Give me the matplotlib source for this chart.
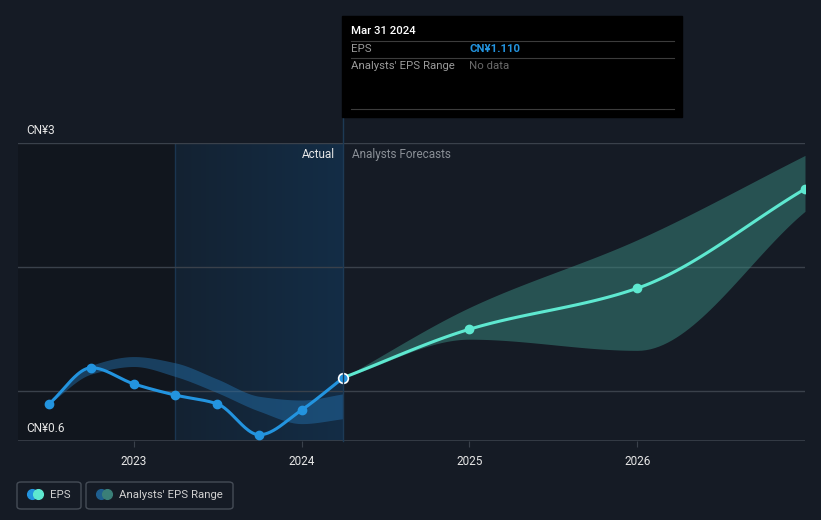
import matplotlib.pyplot as plt
from matplotlib.patches import FancyBboxPatch, Rectangle
from matplotlib.lines import Line2D
from matplotlib.colors import LinearSegmentedColormap
import numpy as np
import pandas as pd

plt.rcParams["font.family"] = ["Roboto", "DejaVu Sans"]

BG = "#151b25"
EPS_BLUE = "#2394df"
EPS_TEAL = "#5ee8d0"

hist_dates = ["2022-06-30", "2022-09-30", "2022-12-31", "2023-03-31",
              "2023-06-30", "2023-09-30", "2023-12-31", "2024-03-31"]
hist_eps = [0.90, 1.19, 1.06, 0.97, 0.90, 0.65, 0.85, 1.11]
hist_low = [0.90, 1.14, 1.20, 1.12, 0.99, 0.84, 0.74, 0.78]
hist_high = [0.90, 1.21, 1.28, 1.23, 1.10, 0.96, 0.93, 0.98]

fc_dates = ["2024-03-31", "2024-12-31", "2025-12-31", "2026-12-31"]
fc_eps = [1.11, 1.50, 1.83, 2.63]
fc_low = [1.11, 1.42, 1.33, 2.45]
fc_high = [1.11, 1.675, 2.22, 2.90]

year_ticks = [2023, 2024, 2025, 2026]
y_min, y_max = 0.6, 3.0


def to_year(dates):
    d = pd.to_datetime(dates)
    return np.array([x.year + x.dayofyear / (366 if x.is_leap_year else 365) for x in d])


def smooth(x, y, n=40):
    # monotone cubic (Fritsch-Carlson), only for drawing the curve
    x = np.asarray(x, float)
    y = np.asarray(y, float)
    h = np.diff(x)
    d = np.diff(y) / h
    m = np.zeros_like(y)
    m[0], m[-1] = d[0], d[-1]
    for i in range(1, len(y) - 1):
        if d[i - 1] * d[i] <= 0:
            m[i] = 0
        else:
            w1 = 2 * h[i] + h[i - 1]
            w2 = h[i] + 2 * h[i - 1]
            m[i] = (w1 + w2) / (w1 / d[i - 1] + w2 / d[i])
    xs, ys = [], []
    for i in range(len(x) - 1):
        t = np.linspace(0, 1, n)
        h00 = 2 * t**3 - 3 * t**2 + 1
        h10 = t**3 - 2 * t**2 + t
        h01 = -2 * t**3 + 3 * t**2
        h11 = t**3 - t**2
        xs.append(x[i] + t * h[i])
        ys.append(h00 * y[i] + h10 * h[i] * m[i] + h01 * y[i + 1] + h11 * h[i] * m[i + 1])
    return np.concatenate(xs), np.concatenate(ys)


hx = to_year(hist_dates)
fx = to_year(fc_dates)

fig = plt.figure(figsize=(8.21, 5.2), dpi=100)
fig.patch.set_facecolor(BG)
W, H = 821, 520
ax = fig.add_axes([18 / W, 79 / H, (805 - 18) / W, (441 - 143) / H])
ax.set_facecolor(BG)
x0, x1 = 2022.31, 2027.0
ax.set_xlim(x0, x1)
ax.set_ylim(y_min, y_max)

# shaded past regions
ax.axvspan(x0, hx[3], color="#10151d", alpha=0.8, lw=0, zorder=0)
grad = np.linspace(0, 1, 256).reshape(1, -1)
cmap = LinearSegmentedColormap.from_list("g", ["#142232", "#132d46"])
ax.imshow(grad, extent=[hx[3], hx[-1], y_min, y_max], aspect="auto", cmap=cmap, zorder=0.5)
ax.axvline(hx[3], color="#1b3550", lw=1, zorder=0.6)

for v in [1.0, 2.0, 3.0]:
    ax.axhline(v, color="#3a414b", lw=1, zorder=1)
ax.axhline(y_min, color="#3a414b", lw=1.2, zorder=1)

# range bands
sx, sl = smooth(hx, hist_low)
_, sh = smooth(hx, hist_high)
ax.fill_between(sx, sl, sh, color="#2473b0", alpha=0.45, lw=0, zorder=2)
fxs, fl = smooth(fx, fc_low)
_, fh = smooth(fx, fc_high)
ax.fill_between(fxs, fl, fh, color="#3a8a80", alpha=0.5, lw=0, zorder=2)

# EPS lines
ex, ey = smooth(hx, hist_eps)
ax.plot(ex, ey, color=EPS_BLUE, lw=2.2, zorder=4, solid_capstyle="round")
ax.plot(hx[:-1], hist_eps[:-1], "o", color=EPS_BLUE, ms=6, zorder=5)
gx, gy = smooth(fx, fc_eps)
ax.plot(gx, gy, color=EPS_TEAL, lw=2.2, zorder=4, solid_capstyle="round")
ax.plot(fx[1:], fc_eps[1:], "o", color=EPS_TEAL, ms=6, zorder=5)
ax.plot(hx[-1], hist_eps[-1], "o", color=EPS_BLUE, ms=7, mec="white", mew=1.2, zorder=6)

for s in ax.spines.values():
    s.set_visible(False)
ax.set_yticks([])
ax.set_xticks(year_ticks)
ax.set_xticklabels([str(y) for y in year_ticks], color="#e6e6e6", fontsize=8.5)
ax.tick_params(axis="x", length=4, color="#3a414b", pad=6)

ytr = ax.get_yaxis_transform()
ax.text(0.01, 3.0 + 0.045, "CN¥3", color="#e6e6e6", fontsize=8.5, transform=ytr, va="bottom")
ax.text(0.01, y_min + 0.045, "CN¥0.6", color="#e6e6e6", fontsize=8.5, transform=ytr, va="bottom")
ax.text(hx[-1] - 0.05, 2.91, "Actual", color="#e6e6e6", fontsize=8.5, ha="right", va="center")
ax.text(hx[-1] + 0.05, 2.91, "Analysts Forecasts", color="#8a8f96", fontsize=8.5, ha="left", va="center")

# tooltip
fig.add_artist(Line2D([343 / W, 343 / W], [1 - 117 / H, 79 / H], color="#1d3a55", lw=1))
fig.add_artist(Rectangle((342 / W, 1 - 117 / H), 340 / W, 101 / H, color="black", zorder=10))
for yy in [41, 58, 109]:
    fig.add_artist(Line2D([351 / W, 674 / W], [1 - yy / H] * 2, color="#3c3c3c", lw=0.8, zorder=11))
fig.text(351 / W, 1 - 31 / H, "Mar 31 2024", color="white", fontsize=8.2, va="center", weight="medium", zorder=12)
fig.text(351 / W, 1 - 49.5 / H, "EPS", color="#9a9a9a", fontsize=8.2, va="center", zorder=12)
fig.text(469 / W, 1 - 49.5 / H, "CN¥1.110", color=EPS_BLUE, fontsize=8.2, va="center", weight="bold", zorder=12)
fig.text(351 / W, 1 - 66 / H, "Analysts' EPS Range", color="#9a9a9a", fontsize=8.2, va="center", zorder=12)
fig.text(469 / W, 1 - 66 / H, "No data", color="#6a6a6a", fontsize=8.2, va="center", zorder=12)

# legend
for (lx, lw, label, c1, c2) in [(17, 64, "EPS", EPS_BLUE, EPS_TEAL),
                                (86, 147, "Analysts' EPS Range", "#1f5f8f", "#3a7f78")]:
    fig.add_artist(FancyBboxPatch((lx / W, 1 - 509 / H), lw / W, 27 / H,
                                  boxstyle="round,pad=0,rounding_size=0.005",
                                  fc="none", ec="#454c56", lw=1))
    fig.add_artist(Line2D([(lx + 15) / W], [1 - 494 / H], marker="o", ms=7, color=c1, lw=0))
    fig.add_artist(Line2D([(lx + 21) / W], [1 - 494 / H], marker="o", ms=7, color=c2, lw=0))
    fig.text((lx + 33) / W, 1 - 494.5 / H, label, color="#d0d0d0", fontsize=8.2, va="center")

fig.savefig("out.png", dpi=100, facecolor=BG)
